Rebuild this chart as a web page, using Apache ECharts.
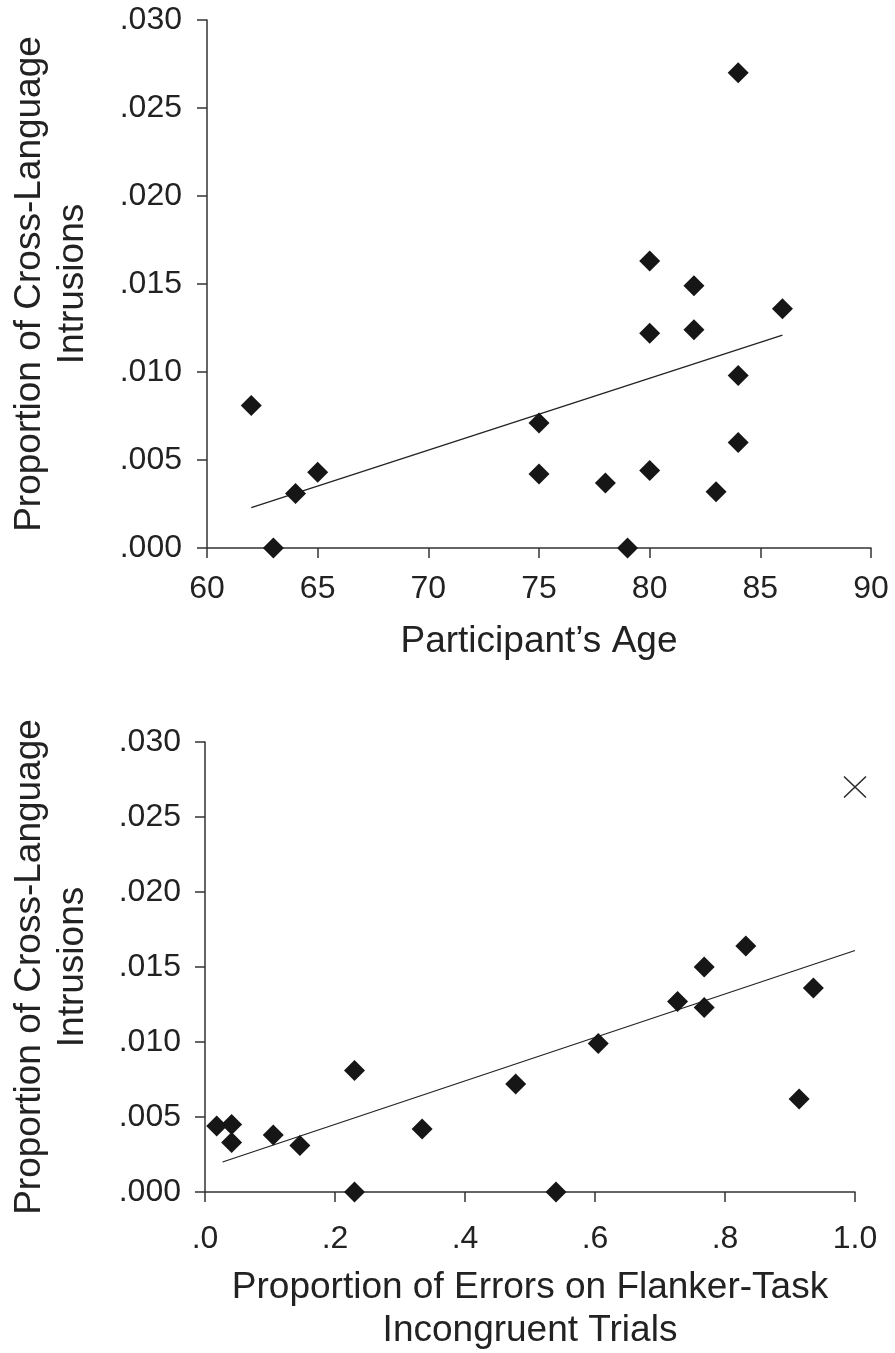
<!DOCTYPE html>
<html><head><meta charset="utf-8">
<script src="https://cdn.jsdelivr.net/npm/echarts@6/dist/echarts.min.js"></script>
<style>html,body{margin:0;padding:0;background:#fff}#c{width:895px;height:1353px}</style>
</head><body><div id="c"></div>
<script>
// Panel A: age vs proportion of cross-language intrusions
const ageX = [62, 63, 64, 65, 75, 75, 78, 79, 80, 80, 80, 82, 82, 83, 84, 84, 84, 86];
const ageY = [0.0081, 0.0000, 0.0031, 0.0043, 0.0071, 0.0042, 0.0037, 0.0000, 0.0163, 0.0122, 0.0044, 0.0149, 0.0124, 0.0032, 0.0270, 0.0098, 0.0060, 0.0136];
const ageTrendX = [62, 86];
const ageTrendY = [0.0023, 0.0121];

// Panel B: flanker errors vs proportion of cross-language intrusions
const flankX = [0.018, 0.041, 0.041, 0.105, 0.146, 0.230, 0.230, 0.334, 0.478, 0.540, 0.605, 0.727, 0.768, 0.768, 0.832, 0.914, 0.936];
const flankY = [0.0044, 0.0045, 0.0033, 0.0038, 0.0031, 0.0081, 0.0000, 0.0042, 0.0072, 0.0000, 0.0099, 0.0127, 0.0150, 0.0123, 0.0164, 0.0062, 0.0136];
const outlierX = [1.0];
const outlierY = [0.0270];
const flankTrendX = [0.027, 1.0];
const flankTrendY = [0.0020, 0.0161];

// Tick labels
const yTickLabels = ['.000', '.005', '.010', '.015', '.020', '.025', '.030'];
const ageTickLabels = ['60', '65', '70', '75', '80', '85', '90'];
const flankTickLabels = ['.0', '.2', '.4', '.6', '.8', '1.0'];

const FONT = 'Liberation Sans, Arial, Helvetica, sans-serif';
const TXT = '#222';
const AX = '#333';

function pairs(xs, ys) { return xs.map((x, i) => [x, ys[i]]); }

function label(margin, labels) {
  return { fontFamily: FONT, fontSize: 32, color: TXT, margin: margin, showMinLabel: true, showMaxLabel: true,
    formatter: (v, i) => labels[i] };
}

function baseAxis(extra) {
  return Object.assign({
    type: 'value',
    axisLine: { show: true, lineStyle: { color: AX, width: 1.5 } },
    axisTick: { show: true, inside: false, length: 10, lineStyle: { color: AX, width: 1.5 } },
    splitLine: { show: false },
    nameTextStyle: { fontFamily: FONT, fontSize: 37, color: TXT, lineHeight: 43 }
  }, extra);
}

const chart = echarts.init(document.getElementById('c'), null, { renderer: 'canvas' });
chart.setOption({
  animation: false,
  backgroundColor: '#fff',
  grid: [
    { left: 207, top: 20, width: 664, height: 528 },
    { left: 205, top: 742, width: 650, height: 450 }
  ],
  xAxis: [
    baseAxis({
      gridIndex: 0, min: 60, max: 90, interval: 5,
      axisLabel: label(25, ageTickLabels),
      name: 'Participant\u2019s Age', nameLocation: 'middle', nameGap: 72
    }),
    baseAxis({
      gridIndex: 1, min: 0, max: 1, interval: 0.2,
      axisLabel: label(31, flankTickLabels),
      name: 'Proportion of Errors on Flanker-Task\nIncongruent Trials', nameLocation: 'middle', nameGap: 74
    })
  ],
  yAxis: [
    baseAxis({
      gridIndex: 0, min: 0, max: 0.03, interval: 0.005,
      axisLabel: label(25, yTickLabels),
      name: 'Proportion of Cross-Language\nIntrusions', nameLocation: 'middle', nameRotate: 90, nameGap: 113
    }),
    baseAxis({
      gridIndex: 1, min: 0, max: 0.03, interval: 0.005,
      axisLabel: label(24, yTickLabels),
      name: 'Proportion of Cross-Language\nIntrusions', nameLocation: 'middle', nameRotate: 90, nameGap: 111
    })
  ],
  series: [
    {
      type: 'line', xAxisIndex: 0, yAxisIndex: 0, data: pairs(ageTrendX, ageTrendY),
      showSymbol: false, symbol: 'none', lineStyle: { color: '#222', width: 1.3 }, z: 2
    },
    {
      type: 'scatter', xAxisIndex: 0, yAxisIndex: 0, data: pairs(ageX, ageY), clip: false,
      symbol: 'diamond', symbolSize: 21, itemStyle: { color: '#161616', opacity: 1 }, z: 3
    },
    {
      type: 'line', xAxisIndex: 1, yAxisIndex: 1, data: pairs(flankTrendX, flankTrendY),
      showSymbol: false, symbol: 'none', lineStyle: { color: '#222', width: 1.3 }, z: 2
    },
    {
      type: 'scatter', xAxisIndex: 1, yAxisIndex: 1, data: pairs(flankX, flankY), clip: false,
      symbol: 'diamond', symbolSize: 21, itemStyle: { color: '#161616', opacity: 1 }, z: 3
    },
    {
      type: 'scatter', xAxisIndex: 1, yAxisIndex: 1, data: pairs(outlierX, outlierY), clip: false,
      symbol: 'path://M0,0L10,10M10,0L0,10', symbolSize: [22, 21],
      itemStyle: { color: 'rgba(0,0,0,0)', borderColor: '#2a2a2a', borderWidth: 1.5, opacity: 1 }, z: 3
    }
  ]
});
</script>
</body></html>
